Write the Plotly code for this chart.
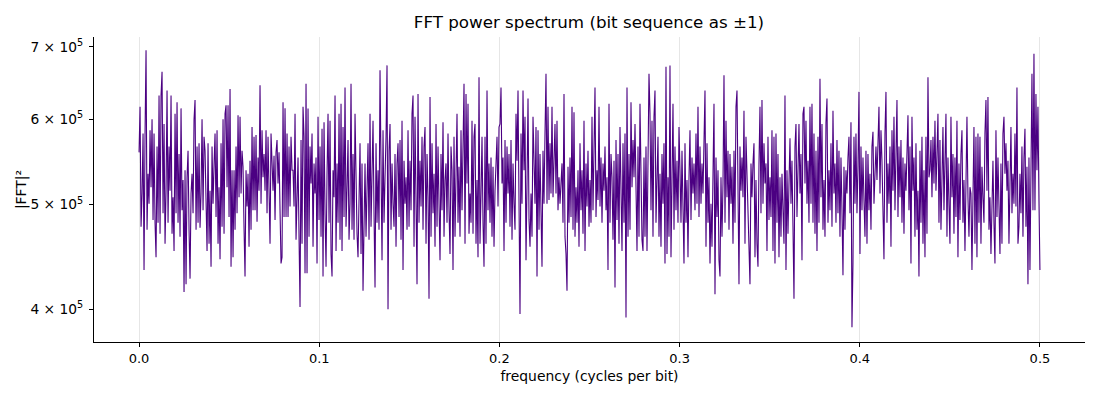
import numpy as np
import plotly.graph_objects as go

# |FFT|^2 in units of 1e5 left to right
power_1 = [5.59, 6.16, 4.77, 5.12, 5.82, 4.35, 5.82, 6.95, 4.74, 5.34, 5.01, 5.86, 5.19, 6.00, 4.84, 5.82,
           4.81, 4.47, 5.66, 4.81, 6.31, 4.70, 6.31, 6.64, 4.91, 5.94, 4.60, 5.15, 6.38, 4.81, 5.66, 5.15,
           6.31, 4.70, 5.08, 4.53, 6.07, 4.91, 6.22, 4.81, 5.57, 4.67, 6.14, 4.94, 5.27, 4.15, 5.38, 4.22,
           5.30, 5.61, 4.74, 4.27, 5.12, 5.34, 4.91, 6.00, 6.25, 4.74, 5.66, 4.81, 5.70, 4.76, 5.12, 6.00,
           4.94, 5.78, 5.61, 4.74, 4.53, 5.70, 4.60, 5.15, 4.38, 5.66, 5.01, 5.44, 5.82, 4.87, 5.86, 4.60,
           5.19, 4.45, 5.70, 4.77, 6.00, 4.70, 6.07, 6.18, 5.19, 6.18, 4.87, 6.40, 4.38, 5.38, 4.47, 5.38,
           4.74, 5.66, 4.91, 6.05, 5.08, 6.03, 5.12, 5.61, 5.42, 4.76, 4.29, 5.38, 4.98, 5.34, 4.57, 5.49,
           4.74, 5.90, 4.94, 5.78, 4.94, 5.80, 4.82, 5.53, 5.15, 6.45, 5.01, 5.86, 5.30, 5.57, 5.15, 5.86,
           4.91, 5.78, 5.01, 4.60, 5.82, 5.30, 5.15, 5.55, 4.84, 5.59, 5.74, 5.23, 5.59, 4.94, 4.41, 4.47,
           6.22, 4.87, 6.14, 4.87, 5.82, 4.87, 5.66, 4.98, 5.78, 5.38, 5.38]
power_2 = [4.98, 6.07, 4.64, 5.30, 5.53, 4.67, 4.02, 5.74, 4.60, 6.16, 5.78, 4.32, 6.47, 4.32, 6.14, 4.67,
           5.66, 5.23, 5.82, 4.57, 5.46, 5.12, 5.53, 4.41, 6.03, 4.84, 5.66, 4.67, 5.88, 4.29, 5.96, 4.91,
           4.38, 5.34, 6.07, 4.81, 5.98, 4.50, 4.29, 5.38, 5.08, 6.31, 4.53, 5.46, 4.81, 6.07, 4.64, 6.20,
           4.53, 5.90, 4.87, 6.42, 4.77, 5.19, 5.74, 4.64, 5.01, 6.47, 4.74, 5.57, 4.64, 6.07, 4.98, 4.70,
           4.47, 5.38, 5.70, 4.50, 5.46, 4.16, 5.15, 5.46, 4.67, 5.23, 5.70, 4.64, 6.07, 4.77, 5.38, 5.98,
           4.91, 4.19, 5.70, 4.81, 5.38, 4.74, 6.66, 5.01, 4.44, 5.86, 4.81, 5.30, 5.78, 6.73, 4.00, 5.61,
           5.94, 4.74, 5.46, 5.01, 4.77, 5.57, 4.57, 5.46, 5.70, 4.87, 5.74, 4.64, 5.98, 4.35, 5.49, 5.01,
           5.30, 4.74, 5.86, 4.77, 5.49, 4.94, 6.07, 6.31, 4.57, 6.03, 5.15, 4.22, 6.33, 4.81, 5.49, 4.98,
           5.78, 4.74, 5.66, 5.90, 4.60, 5.57, 5.08, 4.09, 6.29, 4.67, 5.70, 4.91, 5.34, 4.57, 5.94, 4.77,
           5.66, 5.08, 4.44, 5.57, 4.94, 5.96, 4.67, 5.27, 5.46, 4.81, 5.82, 4.94, 4.50, 5.66, 5.38]
power_3 = [4.35, 5.78, 4.67, 5.57, 6.07, 4.81, 5.42, 4.67, 5.86, 4.94, 5.61, 6.47, 4.60, 6.33, 5.23, 6.20,
           4.70, 5.12, 4.81, 5.98, 4.70, 5.78, 5.94, 4.60, 5.27, 4.47, 6.56, 4.60, 5.12, 5.78, 4.81, 4.38,
           5.78, 4.60, 6.38, 4.94, 5.46, 4.81, 5.53, 4.67, 5.42, 4.57, 5.15, 5.46, 5.78, 4.98, 5.90, 5.94,
           6.42, 5.23, 5.53, 4.53, 5.74, 4.81, 5.66, 5.12, 5.57, 4.77, 5.74, 4.64, 5.46, 5.01, 4.74, 6.07,
           5.49, 6.38, 5.08, 3.96, 5.82, 5.01, 6.38, 5.38, 6.03, 4.44, 5.23, 6.27, 4.84, 4.57, 5.12, 4.67,
           6.03, 5.34, 5.01, 5.90, 4.29, 5.86, 4.74, 5.57, 5.08, 4.38, 5.61, 5.01, 5.82, 6.61, 5.01, 6.16,
           5.05, 5.70, 5.12, 6.16, 5.08, 5.70, 5.94, 5.12, 5.98, 4.94, 5.30, 5.01, 5.30, 5.46, 4.81, 6.33,
           4.67, 4.50, 4.16, 5.42, 4.81, 5.53, 4.87, 6.16, 4.74, 6.09, 4.67, 5.19, 4.81, 5.38, 4.57, 5.70,
           4.94, 5.38, 4.70, 5.98, 4.53, 5.46, 4.98, 5.61, 4.77, 5.27, 4.81, 6.03, 4.94, 5.82, 6.42, 4.87,
           5.38, 5.05, 6.16, 4.98, 5.53, 4.81, 5.46, 5.15, 5.66, 4.94, 5.30, 4.35, 6.20, 4.81, 5.57]
power_4 = [5.30, 4.64, 5.49, 4.19, 5.74, 4.84, 5.57, 4.60, 5.90, 5.08, 4.53, 5.70, 4.81, 5.82, 3.93, 6.42,
           4.67, 5.57, 4.74, 6.22, 5.19, 5.74, 5.30, 5.94, 4.91, 4.53, 5.66, 4.67, 6.20, 5.30, 4.64, 4.53,
           5.53, 4.67, 5.66, 4.53, 5.30, 6.61, 6.07, 4.94, 5.98, 4.67, 6.03, 6.38, 4.81, 5.46, 5.78, 4.67,
           5.34, 4.57, 5.57, 5.01, 5.70, 4.41, 6.71, 4.50, 5.30, 4.67, 6.73, 4.47, 5.78, 6.20, 4.74, 5.66,
           4.94, 5.49, 4.81, 5.90, 5.38, 4.81, 5.61, 4.67, 4.41, 5.70, 4.81, 5.27, 4.47, 5.30, 5.86, 4.84,
           5.53, 5.12, 5.46, 4.94, 5.82, 5.01, 6.16, 4.87, 5.66, 5.01, 5.46, 5.12, 5.66, 6.38, 4.57, 5.70,
           4.81, 5.30, 4.41, 5.01, 4.57, 5.46, 6.20, 4.13, 5.53, 4.87, 5.38, 4.44, 4.29, 5.30, 4.67, 5.23,
           6.59, 4.81, 5.98, 5.08, 5.61, 4.74, 5.57, 5.01, 5.42, 4.60, 5.61, 4.81, 6.16, 6.38, 5.01, 4.22,
           5.66, 5.15, 5.53, 5.08, 6.11, 4.60, 5.78, 5.38, 4.94, 4.64, 4.22, 5.46, 5.08, 5.46, 5.70, 4.47,
           5.27, 4.60, 4.38, 5.46, 6.16, 4.91, 6.25, 5.01, 5.70, 5.23, 5.46, 4.53, 5.78, 4.84, 5.30]
power_5 = [4.87, 5.86, 4.53, 5.78, 4.41, 5.82, 4.81, 5.57, 4.47, 5.30, 4.67, 5.34, 4.94, 4.60, 6.31, 4.35,
           5.38, 4.70, 5.23, 5.76, 5.01, 5.49, 4.77, 4.09, 5.66, 5.94, 4.87, 5.66, 5.94, 5.12, 5.57, 4.44,
           6.07, 6.16, 5.23, 5.98, 5.01, 5.49, 4.81, 6.16, 5.01, 6.20, 4.81, 5.82, 4.70, 5.61, 4.53, 5.78,
           4.81, 6.54, 5.08, 5.94, 4.74, 5.27, 4.67, 5.96, 6.27, 4.81, 5.38, 4.94, 5.70, 4.77, 6.11, 5.12,
           5.46, 4.81, 5.74, 4.91, 5.61, 4.67, 5.53, 4.94, 4.30, 5.42, 4.74, 5.38, 5.12, 5.53, 5.78, 4.91,
           5.96, 3.85, 4.41, 5.78, 5.01, 5.82, 4.91, 5.42, 6.36, 4.50, 5.66, 4.94, 5.53, 5.05, 4.67, 5.61,
           4.60, 5.57, 4.94, 5.34, 4.74, 5.66, 5.84, 5.01, 5.49, 5.66, 5.27, 5.78, 6.16, 5.12, 5.86, 5.49,
           4.98, 4.45, 5.82, 6.36, 4.81, 5.46, 5.01, 5.66, 4.57, 5.86, 5.15, 6.03, 4.94, 5.49, 6.25, 4.87,
           5.66, 5.08, 5.74, 4.81, 5.53, 4.70, 5.46, 5.15, 5.74, 6.05, 4.94, 5.66, 4.41, 6.03, 5.15, 5.53,
           4.67, 5.70, 4.74, 5.15, 4.29, 5.61, 4.81, 5.78, 4.60, 5.38, 4.47, 5.78, 4.70, 6.56, 5.30]
power_6 = [5.38, 5.74, 5.08, 5.78, 5.23, 5.98, 5.15, 5.57, 6.07, 4.81, 5.74, 4.74, 5.61, 5.90, 4.94, 5.38,
           6.07, 4.67, 5.53, 5.01, 4.60, 6.03, 5.08, 5.57, 4.70, 5.53, 4.87, 5.98, 4.47, 5.46, 4.84, 5.57,
           5.86, 4.81, 5.27, 4.53, 5.19, 6.03, 5.08, 4.67, 5.19, 5.12, 4.35, 5.46, 5.90, 4.60, 5.78, 4.47,
           5.82, 4.81, 5.78, 4.60, 5.42, 5.08, 4.81, 5.82, 6.25, 5.15, 6.29, 4.74, 5.08, 4.50, 4.94, 5.49,
           4.81, 4.41, 5.86, 4.87, 5.53, 5.01, 4.50, 5.46, 4.60, 5.82, 6.03, 5.34, 5.70, 5.15, 5.49, 4.60,
           5.08, 5.90, 4.91, 5.34, 5.01, 5.82, 4.98, 6.42, 4.60, 4.77, 5.34, 4.91, 5.66, 4.67, 5.53, 5.88,
           4.77, 5.42, 4.22, 5.53, 4.35, 5.30, 6.61, 4.94, 6.90, 4.94, 6.33, 5.38, 6.16, 5.05, 4.35]

power = np.array(power_1 + power_2 + power_3 + power_4 + power_5 + power_6) * 1e5
freq = np.linspace(0, 0.5, len(power))

y_ticks = [4e5, 5e5, 6e5, 7e5]
y_labels = ["4 × 10<sup>5</sup>", "5 × 10<sup>5</sup>", "6 × 10<sup>5</sup>", "7 × 10<sup>5</sup>"]
x_ticks = [0.0, 0.1, 0.2, 0.3, 0.4, 0.5]
x_labels = ["0.0", "0.1", "0.2", "0.3", "0.4", "0.5"]

fig = go.Figure(go.Scatter(x=freq, y=power, mode="lines",
                           line=dict(color="#4B0082", width=1.1)))

# page body adds 8px around the figure, so size it to fit the window
fig.update_layout(
    width=1092, height=392,
    margin=dict(l=86, r=15, t=29, b=58, autoexpand=False),
    paper_bgcolor="white", plot_bgcolor="white",
    font=dict(family="DejaVu Sans", size=13, color="black"),
    showlegend=False,
    title=dict(text="FFT power spectrum (bit sequence as ±1)", x=0.532, xanchor="center",
               y=0.964, yanchor="middle", font=dict(size=16.7)),
)
fig.update_xaxes(range=[-0.025, 0.525], tickvals=x_ticks, ticktext=x_labels,
                 showgrid=True, gridcolor="#e6e6e6", gridwidth=1, zeroline=False,
                 showline=True, linecolor="black", linewidth=1,
                 ticks="outside", ticklen=4, tickcolor="black", tickfont=dict(size=13),
                 automargin=False,
                 title=dict(text="frequency (cycles per bit)", standoff=6, font=dict(size=13.9)))
fig.update_yaxes(type="log", range=[np.log10(3.73e5), np.log10(7.15e5)],
                 tickvals=y_ticks, ticktext=y_labels, showgrid=False, zeroline=False,
                 showline=True, linecolor="black", linewidth=1,
                 ticks="outside", ticklen=4, tickcolor="black", tickfont=dict(size=13.8),
                 ticklabelstandoff=3, automargin=False,
                 title=dict(text="|FFT|²", standoff=0, font=dict(size=13.9)))

fig.write_html("out.html")
